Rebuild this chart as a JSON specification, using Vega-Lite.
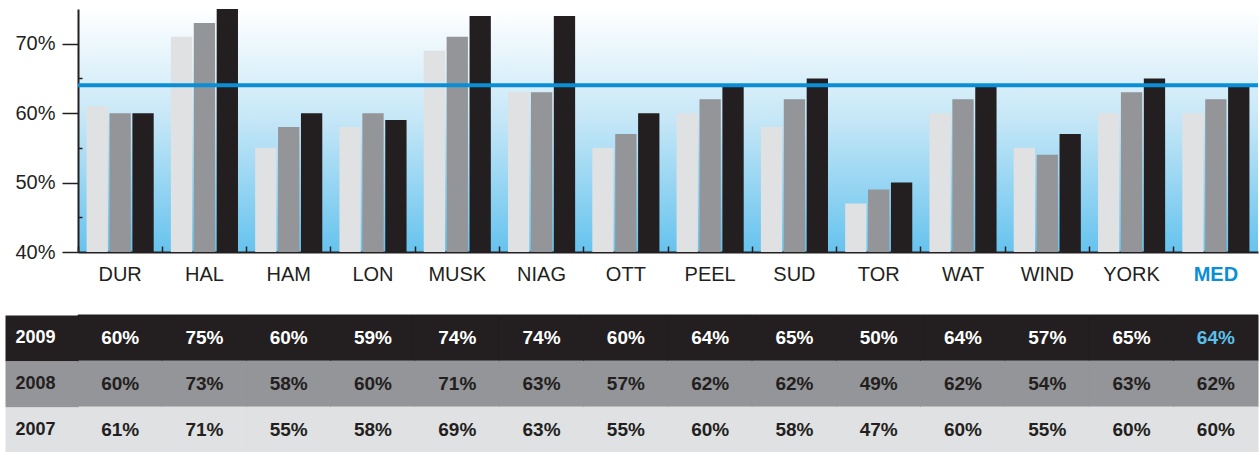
{
  "$schema": "https://vega.github.io/schema/vega-lite/v6.json",
  "padding": {"left": -18, "top": 9, "right": 2, "bottom": 0},
  "config": {"font": "Liberation Sans", "view": {"stroke": null}},
  "datasets": {
    "rates": [
      {"city": "DUR", "year": "2009", "rate": 0.60}, {"city": "DUR", "year": "2008", "rate": 0.60}, {"city": "DUR", "year": "2007", "rate": 0.61},
      {"city": "HAL", "year": "2009", "rate": 0.75}, {"city": "HAL", "year": "2008", "rate": 0.73}, {"city": "HAL", "year": "2007", "rate": 0.71},
      {"city": "HAM", "year": "2009", "rate": 0.60}, {"city": "HAM", "year": "2008", "rate": 0.58}, {"city": "HAM", "year": "2007", "rate": 0.55},
      {"city": "LON", "year": "2009", "rate": 0.59}, {"city": "LON", "year": "2008", "rate": 0.60}, {"city": "LON", "year": "2007", "rate": 0.58},
      {"city": "MUSK", "year": "2009", "rate": 0.74}, {"city": "MUSK", "year": "2008", "rate": 0.71}, {"city": "MUSK", "year": "2007", "rate": 0.69},
      {"city": "NIAG", "year": "2009", "rate": 0.74}, {"city": "NIAG", "year": "2008", "rate": 0.63}, {"city": "NIAG", "year": "2007", "rate": 0.63},
      {"city": "OTT", "year": "2009", "rate": 0.60}, {"city": "OTT", "year": "2008", "rate": 0.57}, {"city": "OTT", "year": "2007", "rate": 0.55},
      {"city": "PEEL", "year": "2009", "rate": 0.64}, {"city": "PEEL", "year": "2008", "rate": 0.62}, {"city": "PEEL", "year": "2007", "rate": 0.60},
      {"city": "SUD", "year": "2009", "rate": 0.65}, {"city": "SUD", "year": "2008", "rate": 0.62}, {"city": "SUD", "year": "2007", "rate": 0.58},
      {"city": "TOR", "year": "2009", "rate": 0.50}, {"city": "TOR", "year": "2008", "rate": 0.49}, {"city": "TOR", "year": "2007", "rate": 0.47},
      {"city": "WAT", "year": "2009", "rate": 0.64}, {"city": "WAT", "year": "2008", "rate": 0.62}, {"city": "WAT", "year": "2007", "rate": 0.60},
      {"city": "WIND", "year": "2009", "rate": 0.57}, {"city": "WIND", "year": "2008", "rate": 0.54}, {"city": "WIND", "year": "2007", "rate": 0.55},
      {"city": "YORK", "year": "2009", "rate": 0.65}, {"city": "YORK", "year": "2008", "rate": 0.63}, {"city": "YORK", "year": "2007", "rate": 0.60},
      {"city": "MED", "year": "2009", "rate": 0.64}, {"city": "MED", "year": "2008", "rate": 0.62}, {"city": "MED", "year": "2007", "rate": 0.60}
    ]
  },
  "vconcat": [
    {
      "width": 1180,
      "height": 243,
      "view": {
        "stroke": null,
        "fill": {
          "gradient": "linear", "x1": 0, "y1": 0, "x2": 0, "y2": 1,
          "stops": [
            {"offset": 0, "color": "#ffffff"},
            {"offset": 0.45, "color": "#c6e7f7"},
            {"offset": 1, "color": "#66c3ee"}
          ]
        }
      },
      "layer": [
        {
          "data": {"name": "rates"},
          "mark": {"type": "bar", "clip": true},
          "encoding": {
            "x": {
              "field": "city", "type": "nominal",
              "sort": ["DUR", "HAL", "HAM", "LON", "MUSK", "NIAG", "OTT", "PEEL", "SUD", "TOR", "WAT", "WIND", "YORK", "MED"],
              "scale": {"paddingInner": 0, "paddingOuter": 0},
              "axis": {
                "title": null, "bandPosition": 0, "tickSize": -6, "tickWidth": 1.5, "tickColor": "#231f20",
                "domainColor": "#231f20", "domainWidth": 2, "labelAngle": 0,
                "labelFont": "Liberation Sans", "labelFontSize": 20, "labelPadding": 18,
                "labelColor": {"condition": {"test": "datum.value === 'MED'", "value": "#0a8fd6"}, "value": "#231f20"},
                "labelFontWeight": {"condition": {"test": "datum.value === 'MED'", "value": "bold"}, "value": "normal"}
              }
            },
            "xOffset": {
              "field": "year", "type": "nominal", "sort": ["2007", "2008", "2009"],
              "scale": {"paddingInner": 0.07, "paddingOuter": 0.375}
            },
            "y": {
              "field": "rate", "type": "quantitative",
              "scale": {"domain": [0.4, 0.75], "nice": false, "zero": false},
              "axis": {
                "title": null, "grid": false, "format": ".0%",
                "values": [0.4, 0.45, 0.5, 0.55, 0.6, 0.65, 0.7],
                "labelExpr": "round(datum.value*100) % 10 == 5 ? '' : datum.label",
                "tickSize": {"condition": {"test": "round(datum.value*100) % 10 == 5", "value": -4}, "value": 16},
                "tickWidth": 1.5, "tickColor": "#231f20",
                "domainColor": "#231f20", "domainWidth": 2,
                "labelFont": "Liberation Sans", "labelFontSize": 20, "labelColor": "#231f20", "labelPadding": 7
              }
            },
            "color": {
              "field": "year", "type": "nominal",
              "scale": {"domain": ["2007", "2008", "2009"], "range": ["#e0e1e3", "#939598", "#231f20"]},
              "legend": null
            }
          }
        },
        {
          "data": {"values": [{"median": 0.64}]},
          "mark": {"type": "rule", "color": "#0a8fd6", "strokeWidth": 4},
          "encoding": {"y": {"field": "median", "type": "quantitative"}}
        }
      ]
    },
    {
      "width": 1180,
      "height": 138,
      "data": {"name": "rates"},
      "view": {"stroke": null},
      "encoding": {
        "x": {
          "field": "city", "type": "nominal",
          "sort": ["DUR", "HAL", "HAM", "LON", "MUSK", "NIAG", "OTT", "PEEL", "SUD", "TOR", "WAT", "WIND", "YORK", "MED"],
          "scale": {"paddingInner": 0, "paddingOuter": 0},
          "axis": null
        },
        "y": {
          "field": "year", "type": "nominal", "sort": ["2009", "2008", "2007"],
          "scale": {"paddingInner": 0, "paddingOuter": 0},
          "axis": {
            "title": null, "domain": false, "tickSize": 73, "tickWidth": 46,
            "tickColor": {"condition": [
              {"test": "datum.value === '2009'", "value": "#231f20"},
              {"test": "datum.value === '2008'", "value": "#939598"}
            ], "value": "#e0e1e3"},
            "labelAlign": "left", "labelPadding": -10,
            "labelFont": "Liberation Sans", "labelFontSize": 18, "labelFontWeight": "bold",
            "labelColor": {"condition": {"test": "datum.value === '2009'", "value": "#ffffff"}, "value": "#231f20"}
          }
        }
      },
      "layer": [
        {
          "mark": {"type": "rect", "strokeWidth": 1},
          "encoding": {
            "color": {
              "field": "year", "type": "nominal",
              "scale": {"domain": ["2007", "2008", "2009"], "range": ["#e0e1e3", "#939598", "#231f20"]},
              "legend": null
            },
            "stroke": {
              "field": "year", "type": "nominal",
              "scale": {"domain": ["2007", "2008", "2009"], "range": ["#e0e1e3", "#939598", "#231f20"]},
              "legend": null
            }
          }
        },
        {
          "mark": {"type": "text", "font": "Liberation Sans", "fontSize": 19, "fontWeight": "bold"},
          "encoding": {
            "text": {"field": "rate", "type": "quantitative", "format": ".0%"},
            "color": {"condition": [
              {"test": "datum.year === '2009' && datum.city === 'MED'", "value": "#5bbfe9"},
              {"test": "datum.year === '2009'", "value": "#ffffff"}
            ], "value": "#231f20"}
          }
        }
      ]
    }
  ],
  "spacing": 30
}
